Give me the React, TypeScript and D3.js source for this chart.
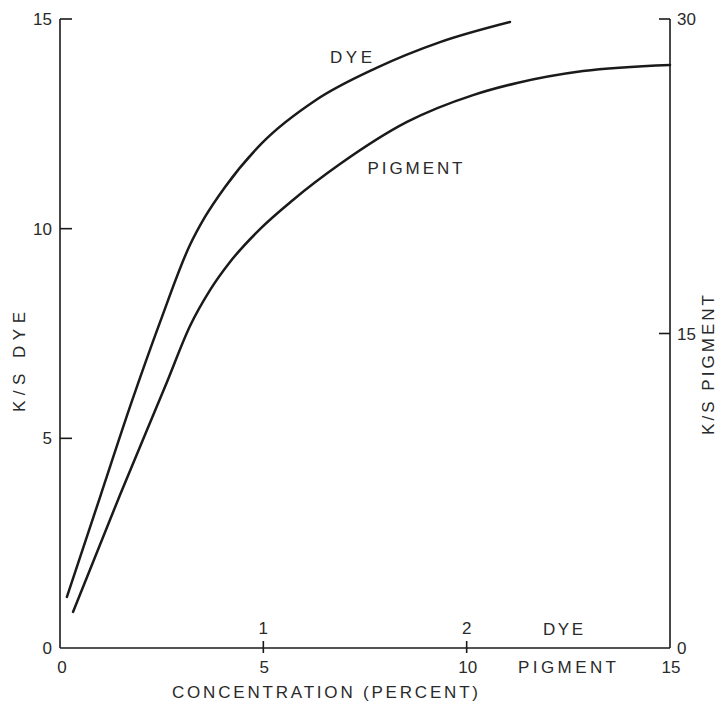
import React from "react";
import * as d3 from "d3";

// Dye curve: x = dye concentration (percent, 0-3), y = K/S dye (left axis 0-15)
const dyeConc = [0.034, 0.197, 0.349, 0.492, 0.639, 0.713, 0.811, 0.993, 1.259, 1.554, 1.869, 2.213];
const dyeKS = [1.22, 3.6, 5.82, 7.77, 9.61, 10.28, 10.99, 12.04, 13.07, 13.83, 14.45, 14.93];

// Pigment curve: x = pigment concentration (percent, 0-15), y = K/S pigment (right axis 0-30)
const pigConc = [0.32, 1.475, 2.631, 3.197, 3.689, 4.18, 4.918, 5.73, 6.885, 8.533, 10.156, 11.238, 12.861, 15.0];
const pigKS = [1.72, 7.3, 12.69, 15.36, 17.07, 18.41, 19.98, 21.37, 23.08, 25.09, 26.37, 26.95, 27.52, 27.81];

const leftTicks = [0, 5, 10, 15];
const rightTicks = [0, 15, 30];
const pigTicks = [0, 5, 10, 15];
const dyeTicks = [1, 2];

const FONT = "'Liberation Sans', Arial, sans-serif";
const INK = "#1a1a1a";
const TXT = "#2a2a2a";

export default function App() {
  const W = 720, H = 702;
  const x0 = 60, x1 = 670, yb = 648, yt = 19;
  const xP = d3.scaleLinear().domain([0, 15]).range([x0, x1]);
  const xD = d3.scaleLinear().domain([0, 3]).range([x0, x1]);
  const yL = d3.scaleLinear().domain([0, 15]).range([yb, yt]);
  const yR = d3.scaleLinear().domain([0, 30]).range([yb, yt]);

  const dyePts: [number, number][] = dyeConc.map((c, i) => [xD(c), yL(dyeKS[i])]);
  const pigPts: [number, number][] = pigConc.map((c, i) => [xP(c), yR(pigKS[i])]);
  const line = d3.line().curve(d3.curveMonotoneX);

  const fs = 17;
  return (
    <svg width={W} height={H} style={{ position: "absolute", left: 0, top: 0, background: "#fff" }}
      fontFamily={FONT}>
      <rect x={0} y={0} width={W} height={H} fill="#fff" />
      {/* axes */}
      <g stroke={INK} strokeWidth={1.6} fill="none">
        <line x1={x0} y1={yt} x2={x0} y2={yb} />
        <line x1={x1} y1={yt} x2={x1} y2={yb} />
        <line x1={x0} y1={yb} x2={x1} y2={yb} />
        {leftTicks.filter(t => t > 0).map(t => (
          <line key={"lt" + t} x1={x0} x2={x0 + 12} y1={yL(t)} y2={yL(t)} />
        ))}
        {rightTicks.filter(t => t > 0).map(t => (
          <line key={"rt" + t} x1={x1} x2={x1 - 11} y1={yR(t)} y2={yR(t)} />
        ))}
        {pigTicks.filter(t => t > 0 && t < 15).map(t => (
          <line key={"bt" + t} x1={xP(t)} x2={xP(t)} y1={yb - 7} y2={yb + 5} />
        ))}
      </g>
      {/* curves */}
      <path d={line(dyePts) || ""} fill="none" stroke={INK} strokeWidth={2.5} strokeLinecap="round" />
      <path d={line(pigPts) || ""} fill="none" stroke={INK} strokeWidth={2.5} strokeLinecap="round" />

      <g fill={TXT} fontSize={fs}>
        {/* left tick labels */}
        {leftTicks.map(t => (
          <text key={"ll" + t} x={x0 - 8} y={yL(t) + 6} textAnchor="end">{t}</text>
        ))}
        {/* right tick labels */}
        {rightTicks.map(t => (
          <text key={"rl" + t} x={x1 + 7} y={yR(t) + 6} textAnchor="start">{t}</text>
        ))}
        {/* pigment tick labels */}
        {pigTicks.map(t => (
          <text key={"pl" + t} x={xP(t) + (t === 0 ? 2 : 1)} y={yb + 25} textAnchor="middle">{t}</text>
        ))}
        {/* dye tick labels */}
        {dyeTicks.map(t => (
          <text key={"dl" + t} x={xD(t)} y={yb - 14} textAnchor="middle">{t}</text>
        ))}
        <text x={563} y={yb - 13} textAnchor="middle" textLength={40} lengthAdjust="spacing">DYE</text>
        <text x={567} y={yb + 25} textAnchor="middle" textLength={98} lengthAdjust="spacing">PIGMENT</text>
        <text x={325} y={698} textAnchor="middle" textLength={306} lengthAdjust="spacing">CONCENTRATION (PERCENT)</text>
        {/* curve labels */}
        <text x={351} y={63} textAnchor="middle" textLength={42} lengthAdjust="spacing">DYE</text>
        <text x={415} y={174} textAnchor="middle" textLength={95} lengthAdjust="spacing">PIGMENT</text>
        {/* axis titles */}
        <text transform="translate(25,362) rotate(-90)" textAnchor="middle" textLength={100} lengthAdjust="spacing">K/S  DYE</text>
        <text transform="translate(714,365) rotate(-90)" textAnchor="middle" textLength={140} lengthAdjust="spacing">K/S  PIGMENT</text>
      </g>
    </svg>
  );
}
